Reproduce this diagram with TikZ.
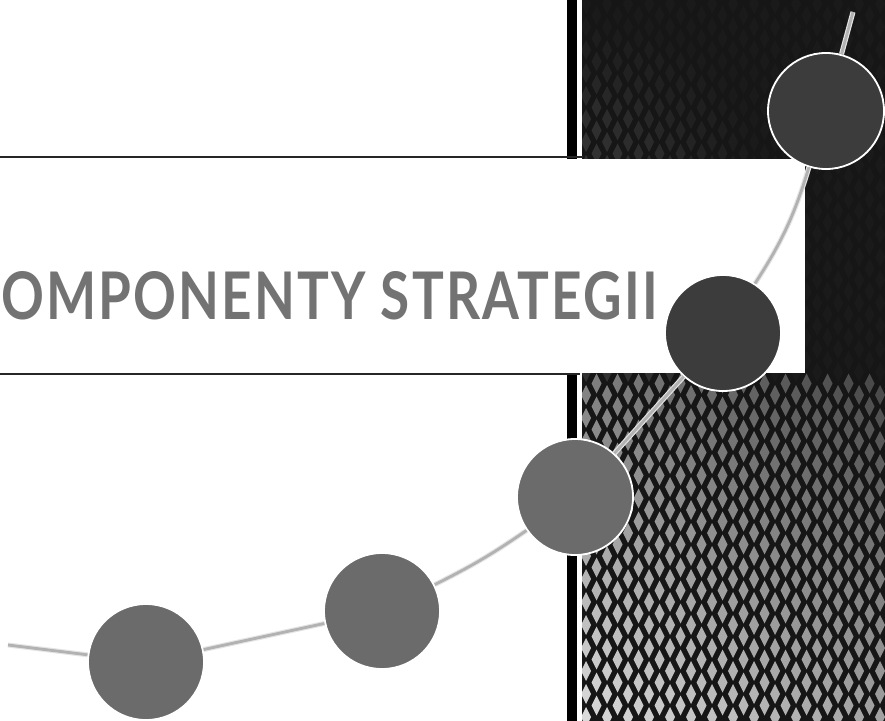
\documentclass[tikz,border=0pt]{standalone}
\usepackage{fontspec}
\setsansfont{Lato}
\usetikzlibrary{positioning}
\definecolor{panel}{HTML}{161616}
\definecolor{ball}{HTML}{6B6B6B}
\definecolor{darkball}{HTML}{3C3C3C}
\tikzset{
  stage/.style={circle, fill=ball, draw=white, line width=1.3pt, minimum size=2.9cm, inner sep=0pt},
  route/.style={draw=white!80!gray, line width=0.8pt, double=gray!60, double distance=2pt},
  rule/.style={draw=gray!30!black, line width=1.4pt}
}

\begin{document}
\begin{tikzpicture}[x=0.025cm, y=-0.025cm]
\useasboundingbox (0,0) rectangle (885,721);
\fill[panel] (582,0) rectangle (885,721);
\foreach \r in {0,...,62}{
  \foreach \c in {0,...,14}{
    \pgfmathsetmacro\mx{586+21*\c+10.5*mod(\r,2)}
    \pgfmathsetmacro\my{4+11.5*\r}
    \pgfmathsetmacro\op{\my>375 ? max(0.1,min(0.85,0.45+0.4*(\my-375)/346-0.25*(\mx-583)/302)) : max(0.02,min(0.12,0.14*(\my/157)*(1-(\mx-583)/200)))}
    \fill[white, opacity=\op] (\mx,\my-10) -- (\mx+5,\my) -- (\mx,\my+10) -- (\mx-5,\my) -- cycle;
  }
}
\fill[black] (567,0) rectangle (577,721);
\fill[white] (0,159) rectangle (805,373);
\draw[rule] (0,157) -- (583,157);
\draw[rule] (0,374) -- (580,374);
\node[anchor=south east, inner sep=0pt, text=gray!90!black, font=\sffamily\bfseries\fontsize{46}{50}\selectfont] (title) at (658,320) {\resizebox{16.4cm}{1.2cm}{\addfontfeatures{LetterSpace=4}OMPONENTY STRATEGII}};
\node[stage] (s1) at (146,662) {};
\node[stage] (s2) at (382,611) {};
\node[stage] (s3) at (575,497) {};
\node[stage, fill=darkball] (s4) at (723,333) {};
\node[stage, fill=darkball] (s5) at (826,111) {};
\coordinate (start) at (8,645);
\coordinate (finish) at (853,12);
\draw[route] (start) -- (s1);
\draw[route] (s1) -- (s2);
\draw[route] (s2) to[bend right=4] (s3);
\draw[route] (s3) -- (s4);
\draw[route] (s4) to[bend right=8] (s5);
\draw[route] (s5) -- (finish);
\end{tikzpicture}
\end{document}
